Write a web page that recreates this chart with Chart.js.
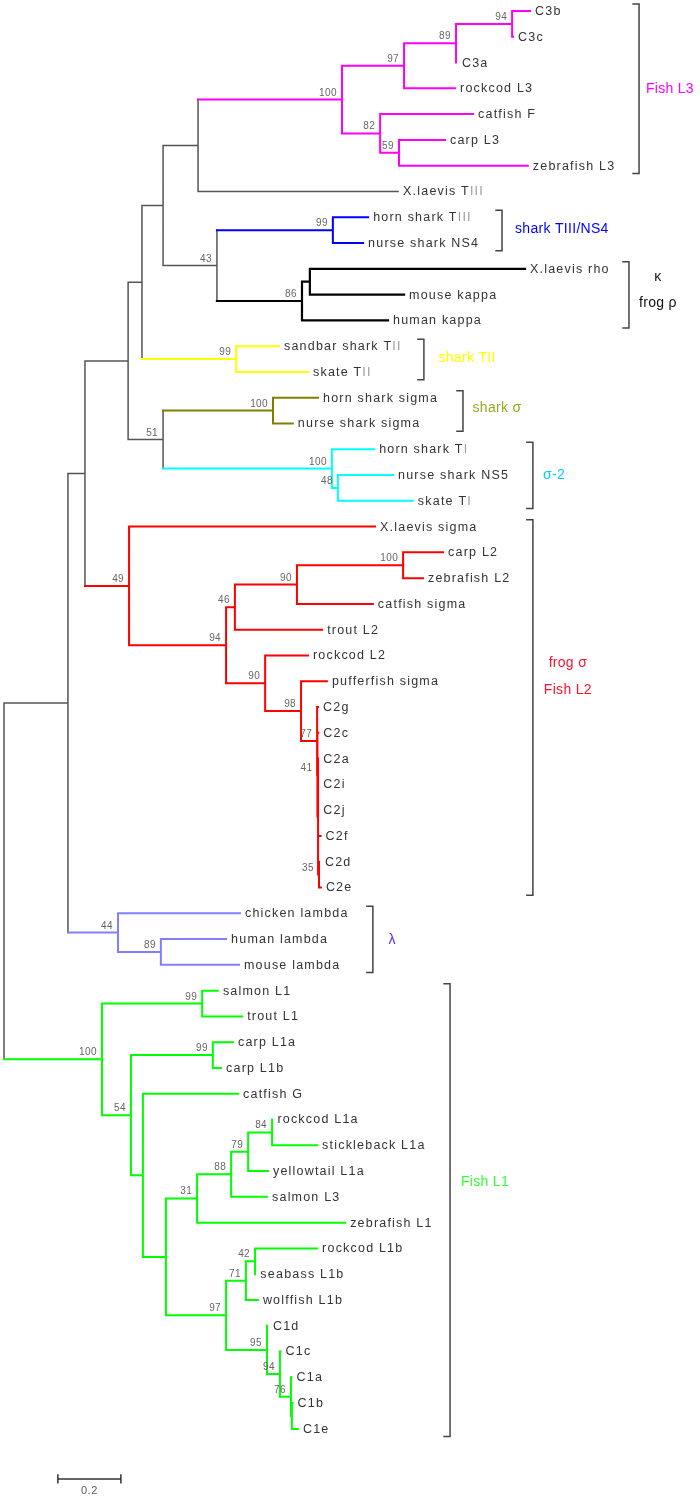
<!DOCTYPE html>
<html>
<head>
<meta charset="utf-8">
<script src="https://cdn.jsdelivr.net/npm/chart.js@4.4.1/dist/chart.umd.min.js"></script>
<style>
  html, body { margin: 0; padding: 0; background: #fff; }
  #wrap { width: 700px; height: 1499px; }
</style>
</head>
<body>
<div id="wrap"><canvas id="treeChart" width="700" height="1499"></canvas></div>
<script>
// leaves, top to bottom, with distance from the root
const leafNames = ['C3b', 'C3c', 'C3a', 'rockcod L3', 'catfish F', 'carp L3', 'zebrafish L3',
    'X.laevis TIII', 'horn shark TIII', 'nurse shark NS4', 'X.laevis rho', 'mouse kappa', 'human kappa',
    'sandbar shark TII', 'skate TII', 'horn shark sigma', 'nurse shark sigma', 'horn shark TI',
    'nurse shark NS5', 'skate TI', 'X.laevis sigma', 'carp L2', 'zebrafish L2', 'catfish sigma',
    'trout L2', 'rockcod L2', 'pufferfish sigma', 'C2g', 'C2c', 'C2a', 'C2i', 'C2j', 'C2f', 'C2d', 'C2e',
    'chicken lambda', 'human lambda', 'mouse lambda', 'salmon L1', 'trout L1', 'carp L1a', 'carp L1b',
    'catfish G', 'rockcod L1a', 'stickleback L1a', 'yellowtail L1a', 'salmon L3', 'zebrafish L1',
    'rockcod L1b', 'seabass L1b', 'wolffish L1b', 'C1d', 'C1c', 'C1a', 'C1b', 'C1e'];
const leafDepth = [1.670, 1.616, 1.438, 1.432, 1.489, 1.400, 1.663,
    1.251, 1.156, 1.140, 1.654, 1.270, 1.219,
    0.873, 0.965, 0.997, 0.917, 1.175,
    1.235, 1.298, 1.178, 1.394, 1.330, 1.171,
    1.010, 0.965, 1.025, 0.997, 0.998, 0.998, 0.998, 0.998, 1.005, 1.003, 1.006,
    0.749, 0.705, 0.746, 0.679, 0.756, 0.727, 0.689,
    0.743, 0.852, 0.994, 0.838, 0.835, 1.083,
    0.994, 0.798, 0.806, 0.838, 0.878, 0.913, 0.916, 0.933];

// internal nodes: name, distance from root, children, bootstrap value
const nodeNames = ['root', 'n68', 'n85', 'n128', 'n142', 'n163', 'n198',
    'L3_100', 'L3_97', 'L3_89', 'L3_94', 'L3_82', 'L3_59',
    'n43', 'TIII_99', 'K_86', 'K_sub', 'TII_99', 'n51', 'S_100', 'S2_100', 'S2_48',
    'L2_49', 'L2_94', 'L2_46', 'L2_90a', 'L2_100', 'L2_90b', 'L2_98', 'L2_77', 'L2_41', 'L2_E', 'L2_35',
    'lam_44', 'lam_89', 'L1_100', 'L1_99a', 'L1_54', 'L1_99b', 'n143', 'n166',
    'L1_31', 'L1_88', 'L1_79', 'L1_84', 'L1_97', 'L1_71', 'L1_42', 'L1_95', 'L1_94', 'L1_76', 'L1_be'];
const nodeDepth = [0, 0.203, 0.257, 0.394, 0.438, 0.505, 0.616,
    1.073, 1.270, 1.435, 1.613, 1.194, 1.254,
    0.676, 1.044, 0.946, 0.971, 0.737, 0.505, 0.854, 1.041, 1.060,
    0.397, 0.705, 0.733, 0.930, 1.267, 0.829, 0.943, 0.994, 0.995, 0.997, 1.000,
    0.362, 0.498, 0.311, 0.629, 0.403, 0.663, 0.441, 0.514,
    0.613, 0.721, 0.775, 0.851, 0.705, 0.768, 0.797, 0.835, 0.876, 0.911, 0.914];
const nodeKids = [
    ['n68', 'L1_100'], ['n85', 'lam_44'], ['n128', 'L2_49'], ['n142', 'n51'], ['n163', 'TII_99'],
    ['n198', 'n43'], ['L3_100', 'X.laevis TIII'],
    ['L3_97', 'L3_82'], ['L3_89', 'rockcod L3'], ['L3_94', 'C3a'], ['C3b', 'C3c'],
    ['catfish F', 'L3_59'], ['carp L3', 'zebrafish L3'],
    ['TIII_99', 'K_86'], ['horn shark TIII', 'nurse shark NS4'], ['K_sub', 'human kappa'],
    ['X.laevis rho', 'mouse kappa'], ['sandbar shark TII', 'skate TII'], ['S_100', 'S2_100'],
    ['horn shark sigma', 'nurse shark sigma'], ['horn shark TI', 'S2_48'], ['nurse shark NS5', 'skate TI'],
    ['X.laevis sigma', 'L2_94'], ['L2_46', 'L2_90b'], ['L2_90a', 'trout L2'], ['L2_100', 'catfish sigma'],
    ['carp L2', 'zebrafish L2'], ['rockcod L2', 'L2_98'], ['pufferfish sigma', 'L2_77'], ['C2g', 'L2_41'],
    ['C2c', 'L2_E'], ['C2a', 'C2i', 'C2j', 'C2f', 'L2_35'], ['C2d', 'C2e'],
    ['chicken lambda', 'lam_89'], ['human lambda', 'mouse lambda'],
    ['L1_99a', 'L1_54'], ['salmon L1', 'trout L1'], ['L1_99b', 'n143'], ['carp L1a', 'carp L1b'],
    ['catfish G', 'n166'], ['L1_31', 'L1_97'],
    ['L1_88', 'zebrafish L1'], ['L1_79', 'salmon L3'], ['L1_84', 'yellowtail L1a'],
    ['rockcod L1a', 'stickleback L1a'], ['L1_71', 'L1_95'], ['L1_42', 'wolffish L1b'],
    ['rockcod L1b', 'seabass L1b'], ['C1d', 'L1_94'], ['C1c', 'L1_76'], ['C1a', 'L1_be'], ['C1b', 'C1e']];
const nodeSupport = [null, null, null, null, null, null, null,
    100, 97, 89, 94, 82, 59,
    43, 99, 86, null, 99, 51, 100, 100, 48,
    49, 94, 46, 90, 100, 90, 98, 77, 41, null, 35,
    44, 89, 100, 99, 54, 99, null, null,
    31, 88, 79, 84, 97, 71, 42, 95, 94, 76, null];

// clade brackets on the right
const bracketText = [['Fish L3'], ['shark TIII/NS4'], ['κ', 'frog ρ'], ['shark TII'], ['shark σ'],
    ['σ-2'], ['frog σ', 'Fish L2'], ['λ'], ['Fish L1']];
const bracketFirst = [0, 8, 10, 13, 15, 17, 20, 35, 38];
const bracketLast = [6, 9, 12, 14, 16, 19, 34, 37, 55];
const bracketDepth = [2.016, 1.581, 1.984, 1.333, 1.457, 1.679, 1.679, 1.171, 1.416];
const labelDepth = [2.114, 1.771, 2.076, 1.470, 1.565, 1.746, 1.790, 1.232, 1.527];
const labelRow = [3.03, 8.46, 10.82, 13.46, 15.40, 18.0, 25.83, 36.04, 45.42];

const scaleBarLength = 0.2;
const scaleBarStart = 0.171;
const scaleBarRow = 56.94;

// styles
const backbone = { color: '#555555', width: 1.5 };
const cladeStyles = {
    L3_100: { color: '#ff00ff', width: 2 },
    TIII_99: { color: '#0000ff', width: 2 },
    K_86: { color: '#000000', width: 2.2 },
    TII_99: { color: '#ffff00', width: 2 },
    S_100: { color: '#808000', width: 2 },
    S2_100: { color: '#00ffff', width: 2 },
    L2_49: { color: '#ff0000', width: 2 },
    lam_44: { color: '#8080ff', width: 2 },
    L1_100: { color: '#00ff00', width: 2 }
};
const bracketColors = ['#ff00ff', '#0000ff', '#111111', '#ffff00', '#96a81e', '#00ccff', '#ff1030', '#5a2cff', '#33ff33'];

// build the tree
const depthOf = {};
const rowOf = {};
const kidsOf = {};
leafNames.forEach((n, i) => { depthOf[n] = leafDepth[i]; rowOf[n] = i; });
nodeNames.forEach((n, i) => { depthOf[n] = nodeDepth[i]; kidsOf[n] = nodeKids[i]; });

const rowFor = (n) => {
    if (rowOf[n] === undefined) {
        const k = kidsOf[n];
        rowOf[n] = (rowFor(k[0]) + rowFor(k[k.length - 1])) / 2;
    }
    return rowOf[n];
};

const segments = {};
const gap = { x: null, y: null };
const addSeg = (key, pts) => {
    if (!segments[key]) segments[key] = [];
    segments[key].push(...pts, gap);
};

const walk = (n, key) => {
    const kids = kidsOf[n];
    if (!kids) return;
    addSeg(key, [{ x: depthOf[n], y: rowFor(kids[0]) }, { x: depthOf[n], y: rowFor(kids[kids.length - 1]) }]);
    kids.forEach(k => {
        const kKey = cladeStyles[k] ? k : key;
        addSeg(kKey, [{ x: depthOf[n], y: rowFor(k) }, { x: depthOf[k], y: rowFor(k) }]);
        walk(k, kKey);
    });
};
walk('root', 'backbone');

const tick = 0.019;
const bracketPts = [];
bracketFirst.forEach((f, i) => {
    const d = bracketDepth[i];
    const top = f - 0.27;
    const bottom = bracketLast[i] + 0.3;
    bracketPts.push({ x: d - tick, y: top }, { x: d, y: top }, { x: d, y: bottom }, { x: d - tick, y: bottom }, gap);
});

const barEnd = scaleBarStart + scaleBarLength;
const scalePts = [
    { x: scaleBarStart, y: scaleBarRow - 0.15 }, { x: scaleBarStart, y: scaleBarRow + 0.15 }, gap,
    { x: scaleBarStart, y: scaleBarRow }, { x: barEnd, y: scaleBarRow }, gap,
    { x: barEnd, y: scaleBarRow - 0.15 }, { x: barEnd, y: scaleBarRow + 0.15 }
];

const lineSet = (data, color, width) => ({
    data: data,
    showLine: true,
    borderColor: color,
    borderWidth: width,
    borderCapStyle: 'square',
    pointRadius: 0,
    spanGaps: false
});

const datasets = Object.keys(segments)
    .filter(k => k !== 'backbone')
    .map(k => lineSet(segments[k], cladeStyles[k].color, cladeStyles[k].width));
datasets.push(lineSet(segments.backbone, backbone.color, backbone.width));
datasets.push(lineSet(bracketPts, '#444444', 1.5));
datasets.push(lineSet(scalePts, '#333333', 1.5));

const treeText = {
    id: 'treeText',
    afterDatasetsDraw: (chart) => {
        const ctx = chart.ctx;
        const xs = chart.scales.x;
        const ys = chart.scales.y;
        ctx.save();

        // leaf names
        ctx.font = '12.5px "Liberation Sans", Arial, sans-serif';
        ctx.letterSpacing = '1.2px';
        ctx.textBaseline = 'middle';
        ctx.textAlign = 'left';
        leafNames.forEach((name, i) => {
            const x = xs.getPixelForValue(leafDepth[i]) + 5;
            const y = ys.getPixelForValue(i) + 0.5;
            const m = name.match(/^(.* T)(I+)$/);
            ctx.fillStyle = '#333333';
            if (m) {
                ctx.fillText(m[1], x, y);
                const w = ctx.measureText(m[1]).width;
                ctx.fillStyle = '#9a9a9a';
                ctx.fillText(m[2], x + w, y);
            } else {
                ctx.fillText(name, x, y);
            }
        });

        // bootstrap values
        ctx.font = '10px "Liberation Sans", Arial, sans-serif';
        ctx.letterSpacing = '0.4px';
        ctx.textBaseline = 'alphabetic';
        ctx.textAlign = 'right';
        ctx.fillStyle = '#666666';
        nodeNames.forEach((n, i) => {
            if (nodeSupport[i] === null) return;
            const x = xs.getPixelForValue(nodeDepth[i]) - 5;
            const y = ys.getPixelForValue(rowFor(n)) - 4;
            ctx.fillText(String(nodeSupport[i]), x, y);
        });

        // clade names
        ctx.font = '14px "Liberation Sans", Arial, sans-serif';
        ctx.letterSpacing = '0.3px';
        ctx.textBaseline = 'middle';
        ctx.textAlign = 'center';
        bracketText.forEach((lines, i) => {
            const x = xs.getPixelForValue(labelDepth[i]);
            const y = ys.getPixelForValue(labelRow[i]);
            ctx.fillStyle = bracketColors[i];
            lines.forEach((t, j) => {
                ctx.fillText(t, x, y + (j - (lines.length - 1) / 2) * 26.5);
            });
        });

        // scale bar label
        ctx.font = '11px "Liberation Sans", Arial, sans-serif';
        ctx.letterSpacing = '0.5px';
        ctx.fillStyle = '#555555';
        ctx.fillText(String(scaleBarLength), xs.getPixelForValue(scaleBarStart + scaleBarLength / 2), ys.getPixelForValue(scaleBarRow) + 12);

        ctx.restore();
    }
};

new Chart(document.getElementById('treeChart').getContext('2d'), {
    type: 'scatter',
    data: { datasets: datasets },
    options: {
        responsive: false,
        animation: false,
        layout: { padding: 0 },
        scales: {
            x: { type: 'linear', display: false, min: -0.0127, max: 2.2095 },
            y: { type: 'linear', display: false, reverse: true, min: -0.4267, max: 57.72 }
        },
        plugins: {
            legend: { display: false },
            tooltip: { enabled: false }
        }
    },
    plugins: [treeText]
});
</script>
</body>
</html>
